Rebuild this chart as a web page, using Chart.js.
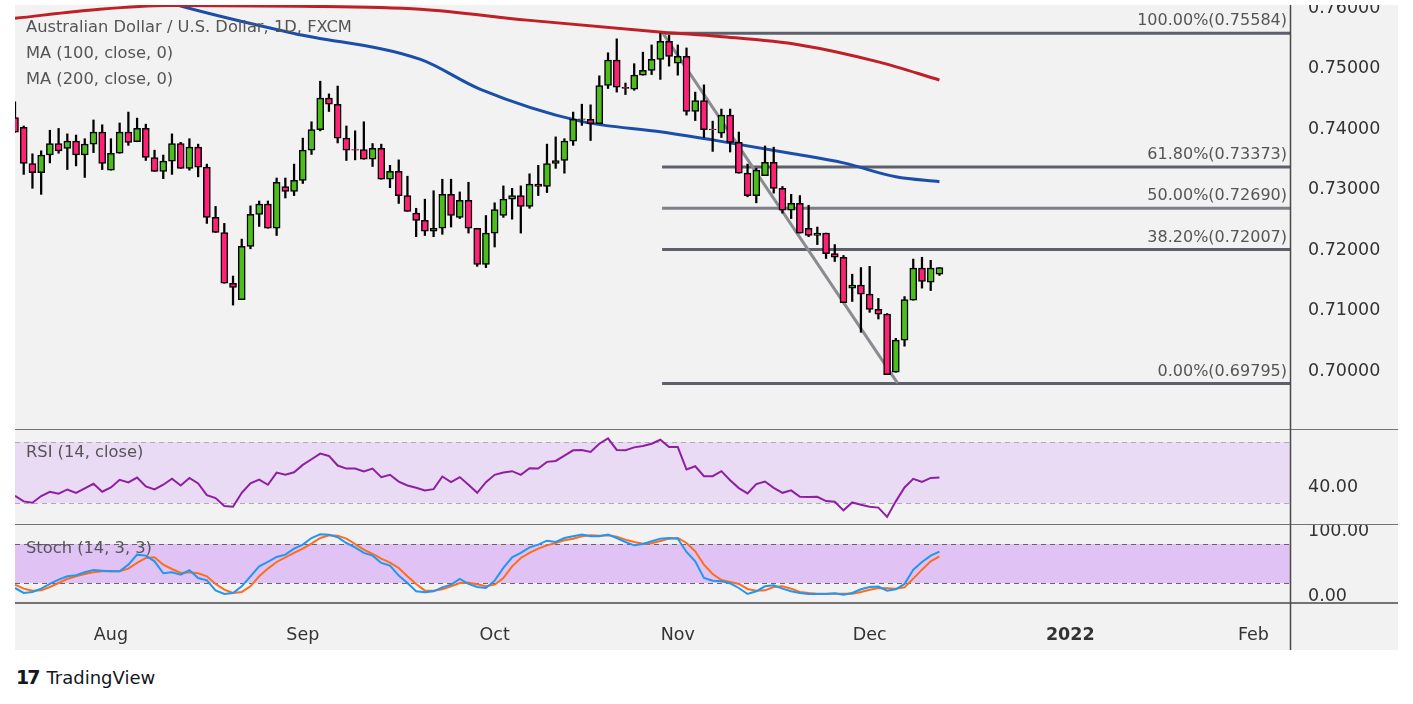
<!DOCTYPE html>
<html>
<head>
<meta charset="utf-8">
<script src="https://cdn.jsdelivr.net/npm/chart.js@4/dist/chart.umd.min.js"></script>
<style>
  body { margin: 0; background: #fff; width: 1413px; height: 704px; position: relative; overflow: hidden; font-family: "DejaVu Sans", sans-serif; }
  #frame { position: absolute; left: 15px; top: 5px; width: 1383px; height: 645px; background: #f2f2f2; }
  .pane { position: absolute; left: 15px; }
  .lbl { position: absolute; left: 26px; font-size: 16.3px; color: #555; white-space: nowrap; pointer-events: none; }
  #logo { position: absolute; left: 16px; top: 666px; font-size: 18px; color: #131722; }
  #logo b { font-size: 19px; letter-spacing: -2px; margin-right: 8px; }
</style>
</head>
<body>
<div id="frame"></div>
<div class="pane" style="top:5px"><canvas id="main" width="1383" height="425"></canvas></div>
<div class="pane" style="top:430px"><canvas id="rsi" width="1383" height="95"></canvas></div>
<div class="pane" style="top:525px"><canvas id="stoch" width="1383" height="125"></canvas></div>
<div class="lbl" style="top:17px">Australian Dollar / U.S. Dollar, 1D, FXCM</div>
<div class="lbl" style="top:43px">MA (100, close, 0)</div>
<div class="lbl" style="top:69px">MA (200, close, 0)</div>
<div class="lbl" style="top:442px">RSI (14, close)</div>
<div class="lbl" style="top:538px">Stoch (14, 3, 3)</div>
<div id="logo"><b>17</b>TradingView</div>
<script>
// bar index 0 = 2 Aug 2021, one step per trading day
const firstIndex = -11;
const opens = [.7419,.7403,.7343,.7328,.7357,.7376,.7368,.7380,.7357,.7375,.7395,.7332,.7360,.7395,.7379,.7401,.7353,.7330,.7347,.7376,.7335,.7370,.7337,.7254,.7229,.7145,.7118,
  .7206,.7259,.7276,.7236,.7305,.7297,.7315,.7365,.7399,.7451,.7441,.7385,.7366,.7366,.7350,.7368,.7317,.7330,.7290,.7261,.7249,.7231,.7236,.7292,.7254,.7282,.7236,.7176,
  .7228,.7257,.7284,.7290,.7272,.7309,.7305,.7343,.7348,.7380,.7416,.7416,.7409,.7472,.7514,.7469,.7466,.7489,.7497,.7515,.7545,.7509,.7520,.7429,.7447,.7400,
  .7393,.7423,.7378,.7327,.7290,.7323,.7345,.7302,.7266,.7277,.7236,.7224,.7228,.7194,.7188,.7137,.7142,.7127,.7102,.7094,.6998,.7051,.7117,.7170,.7147,.7160];
const highs = [.7445,.7405,.7359,.7364,.7398,.7401,.7392,.7390,.7384,.7415,.7407,.7384,.7410,.7428,.7418,.7408,.7365,.7357,.7392,.7378,.7384,.7375,.7342,.7272,.7244,.7157,.7218,
  .7273,.7281,.7281,.7319,.7319,.7342,.7385,.7412,.7479,.7458,.7471,.7405,.7397,.7412,.7376,.7375,.7340,.7349,.7322,.7269,.7284,.7298,.7317,.7317,.7296,.7312,.7236,.7257,
  .7278,.7306,.7302,.7306,.7326,.7340,.7375,.7387,.7384,.7428,.7441,.7440,.7488,.7526,.7549,.7476,.7508,.7527,.7539,.7558,.7555,.7539,.7534,.7461,.7473,.7413,
  .7433,.7433,.7395,.7342,.7335,.7372,.7370,.7305,.7292,.7290,.7274,.7238,.7228,.7209,.7191,.7160,.7171,.7173,.7120,.7095,.7054,.7123,.7185,.7188,.7183,.7171];
const lows = [.7395,.7325,.7302,.7292,.7344,.7360,.7333,.7339,.7320,.7361,.7333,.7332,.7360,.7373,.7379,.7348,.7330,.7318,.7325,.7335,.7332,.7321,.7244,.7229,.7145,.7109,.7118,
  .7202,.7239,.7236,.7224,.7286,.7290,.7310,.7358,.7397,.7429,.7377,.7348,.7349,.7350,.7338,.7317,.7303,.7277,.7264,.7222,.7224,.7222,.7226,.7238,.7252,.7228,.7173,.7171,
  .7205,.7254,.7251,.7228,.7269,.7290,.7295,.7335,.7327,.7373,.7406,.7381,.7409,.7467,.7461,.7457,.7464,.7489,.7490,.7482,.7504,.7489,.7423,.7414,.7386,.7363,
  .7386,.7362,.7327,.7288,.7278,.7323,.7294,.7261,.7252,.7228,.7222,.7209,.7186,.7181,.7113,.7115,.7064,.7097,.7086,.6994,.6998,.7041,.7117,.7137,.7133,.7158];
const closes = [.7395,.7343,.7328,.7357,.7376,.7364,.7380,.7357,.7375,.7395,.7343,.7360,.7395,.7378,.7401,.7353,.7330,.7347,.7376,.7335,.7370,.7337,.7254,.7229,.7145,.7138,.7206,
  .7259,.7276,.7236,.7312,.7297,.7315,.7365,.7399,.7451,.7441,.7385,.7365,.7365,.7350,.7368,.7317,.7330,.7290,.7264,.7249,.7231,.7236,.7292,.7257,.7282,.7236,.7176,.7228,
  .7267,.7284,.7290,.7272,.7309,.7305,.7343,.7348,.7380,.7416,.7417,.7409,.7472,.7514,.7469,.7467,.7489,.7497,.7515,.7545,.7520,.7520,.7429,.7447,.7399,.7399,
  .7423,.7378,.7327,.7290,.7332,.7345,.7302,.7266,.7277,.7228,.7224,.7228,.7194,.7188,.7113,.7142,.7127,.7102,.7094,.6994,.7051,.7118,.7170,.7148,.7170,.7171];

const ma100Idx = [0, 7.6, 21, 35.5, 42.3, 53.8, 63.2, 69.8, 77.9, 84, 90, 95];
const ma100Val = [.7640, .7605, .7558, .7515, .7466, .7413, .7395, .7380, .7360, .7344, .7321, .7313];
const ma200Idx = [-11, -1.3, 6.5, 21.7, 35.5, 47.7, 63.2, 69.8, 79, 88, 95];
const ma200Val = [.7583, .7598, .7604, .7603, .7598, .7580, .7560, .7553, .7539, .7511, .7481];

const fibLabels = ['100.00%', '61.80%', '50.00%', '38.20%', '0.00%'];
const fibLevels = [0.75584, 0.73373, 0.72690, 0.72007, 0.69795];
const fibStart = 63.2;
const trendIdx = [63.3, 90.2];
const trendVal = [0.7558, 0.6980];

const rsi = [34.8,31.1,30.2,34.6,37.4,36.1,38.9,36.7,39.6,42.6,37.4,40.2,45.2,43.5,46.7,40.9,38.9,42.0,45.9,41.5,46.5,42.8,35.2,33.3,28.0,27.6,36.7,43.0,45.4,42.0,
  50.0,48.5,50.2,55.0,58.7,62.4,60.9,54.6,52.6,52.6,50.7,52.6,47.0,48.5,44.1,41.5,40.0,38.3,39.1,47.4,43.7,47.0,42.0,36.7,
  43.7,48.5,50.0,50.9,48.5,52.8,52.6,57.0,57.6,61.1,64.6,64.8,63.5,68.9,72.4,64.8,64.6,66.5,67.4,68.9,71.5,66.7,66.7,52.0,54.1,47.6,47.6,
  50.9,45.0,39.8,36.3,42.4,44.1,40.0,36.7,38.3,34.1,33.9,34.1,31.3,30.9,25.2,30.4,28.9,27.6,27.0,20.9,31.1,40.2,45.9,43.9,46.5,46.7];
const stochK = [12.3,4.6,6.2,11.3,18.5,25.1,30.3,31.8,36.4,40.0,39.0,38.0,38.0,48.2,63.6,62.1,53.3,34.9,36.4,32.8,39.5,27.7,24.1,8.7,3.1,4.6,14.9,
  30.3,45.6,52.3,60.0,63.6,72.8,79.0,89.2,94.9,94.4,90.3,81.5,74.9,66.2,62.1,50.8,46.7,31.3,20.0,7.2,5.6,7.2,13.3,17.4,26.2,18.5,13.8,12.3,
  23.6,43.1,59.5,66.2,74.9,79.0,85.1,83.1,89.2,91.8,94.4,91.8,91.8,94.4,89.2,83.1,77.9,80.0,84.1,88.2,89.2,88.2,67.7,53.3,27.7,23.6,
  22.6,19.5,12.3,3.1,7.2,14.9,16.4,11.3,7.2,4.6,3.1,3.1,3.1,4.1,2.1,4.6,10.3,13.8,14.4,8.2,10.3,18.5,40.5,52.3,62.1,68.2];
const stochD = [17.4,11.3,8.2,8.7,13.8,20.0,26.2,30.3,33.8,36.4,38.0,38.5,38.0,42.1,50.8,58.5,59.5,48.2,41.5,35.4,36.4,34.9,30.3,18.5,9.7,4.6,6.2,
  14.9,30.3,42.1,52.3,59.5,66.2,72.8,80.5,89.2,93.3,92.8,88.2,80.0,71.3,64.6,57.4,51.3,43.1,30.3,18.5,8.2,8.2,10.3,14.9,20.0,20.5,17.9,14.9,
  17.4,27.7,45.6,58.5,66.2,72.8,77.9,81.5,85.6,88.2,91.8,93.3,92.8,93.3,91.3,86.7,83.1,80.5,81.0,84.6,88.2,89.2,81.5,68.7,48.2,33.8,
  24.6,21.5,18.5,10.8,8.2,8.7,13.8,14.9,11.3,6.2,4.6,3.6,3.6,3.6,3.6,3.6,6.2,9.7,12.3,11.8,11.3,13.3,26.7,40.5,53.3,61.0];

const xTickIdx = [0, 22, 44, 65, 87, 110, 131];
const xTickLabels = ['Aug', 'Sep', 'Oct', 'Nov', 'Dec', '2022', 'Feb'];

const X_MIN = -11.0, X_MAX = 135.2;
const AXIS_W = 108;
const FONT = '"DejaVu Sans", sans-serif';
Chart.defaults.font.family = FONT;
Chart.defaults.animation = false;
Chart.defaults.devicePixelRatio = 1;

const xHidden = { type: 'linear', min: X_MIN, max: X_MAX, offset: false, display: false };
function yAxis(min, max, ticks, fmt) {
  return {
    position: 'right', min, max,
    grid: { display: false }, border: { display: false },
    afterBuildTicks: s => { s.ticks = ticks.map(v => ({ value: v })); },
    afterFit: s => { s.width = AXIS_W; s.paddingTop = 0; s.paddingBottom = 0; },
    ticks: { color: '#333', font: { size: 17.5 }, padding: 10, callback: fmt }
  };
}
const sepPlugin = {
  id: 'sep',
  afterDraw(c) {
    const { ctx, chartArea: a } = c;
    ctx.save();
    ctx.strokeStyle = '#4a4a4a'; ctx.lineWidth = 1.5;
    ctx.beginPath();
    ctx.moveTo(a.right + 0.5, 0); ctx.lineTo(a.right + 0.5, c.height);
    ctx.moveTo(0, a.bottom); ctx.lineTo(c.width, a.bottom);
    ctx.stroke();
    ctx.restore();
  }
};
function bandPlugin(lo, hi, fill, dash) {
  return {
    id: 'band',
    beforeDatasetsDraw(c) {
      const { ctx, chartArea: a, scales: { y } } = c;
      const y1 = y.getPixelForValue(hi), y2 = y.getPixelForValue(lo);
      ctx.save();
      ctx.fillStyle = fill;
      ctx.fillRect(a.left, y1, a.right - a.left, y2 - y1);
      ctx.strokeStyle = dash; ctx.lineWidth = 1; ctx.setLineDash([5, 4]);
      ctx.beginPath();
      ctx.moveTo(a.left, Math.round(y1) + 0.5); ctx.lineTo(a.right, Math.round(y1) + 0.5);
      ctx.moveTo(a.left, Math.round(y2) + 0.5); ctx.lineTo(a.right, Math.round(y2) + 0.5);
      ctx.stroke();
      ctx.restore();
    }
  };
}

// main price pane
const idx = opens.map((_, k) => firstIndex + k);
const candleColor = idx.map((_, k) => closes[k] >= opens[k] ? '#4cbd1c' : '#ff2176');
const fibDatasets = fibLevels.map((v, k) => ({
  type: 'line', data: [{ x: fibStart, y: v }, { x: X_MAX, y: v }],
  borderColor: k === 2 ? '#7c7e88' : '#5d606b', borderWidth: 3, pointRadius: 0, order: 5
}));
const fibLabelPlugin = {
  id: 'fibLabels',
  afterDatasetsDraw(c) {
    const { ctx, chartArea: a, scales: { y } } = c;
    ctx.save();
    ctx.font = '16px ' + FONT; ctx.fillStyle = '#555';
    ctx.textAlign = 'right'; ctx.textBaseline = 'bottom';
    fibLevels.forEach((v, k) => {
      ctx.fillText(fibLabels[k] + '(' + v.toFixed(5) + ')', a.right - 3, y.getPixelForValue(v) - 4);
    });
    ctx.restore();
  }
};
new Chart(document.getElementById('main'), {
  type: 'bar',
  data: {
    datasets: [
      ...fibDatasets,
      { type: 'line', data: trendIdx.map((x, k) => ({ x, y: trendVal[k] })), borderColor: '#8b8c92', borderWidth: 3, pointRadius: 0, order: 4 },
      { type: 'line', data: ma200Idx.map((x, k) => ({ x, y: ma200Val[k] })), borderColor: '#bf1f26', borderWidth: 3, pointRadius: 0, cubicInterpolationMode: 'monotone', order: 3 },
      { type: 'line', data: ma100Idx.map((x, k) => ({ x, y: ma100Val[k] })), borderColor: '#1a4ea8', borderWidth: 3, pointRadius: 0, cubicInterpolationMode: 'monotone', order: 3 },
      { data: idx.map((x, k) => ({ x, y: [lows[k], highs[k]] })), backgroundColor: '#000', barThickness: 1.6, grouped: false, order: 2 },
      { data: idx.map((x, k) => ({ x, y: [opens[k], closes[k]] })), backgroundColor: candleColor, borderColor: '#000', borderWidth: 1.5, borderSkipped: false, barThickness: 7, grouped: false, order: 1 }
    ]
  },
  options: {
    responsive: false,
    layout: { padding: 0 },
    plugins: { legend: { display: false }, tooltip: { enabled: false } },
    scales: {
      x: xHidden,
      y: yAxis(0.69025, 0.7605, [0.70, 0.71, 0.72, 0.73, 0.74, 0.75, 0.76], v => v.toFixed(5))
    }
  },
  plugins: [sepPlugin, fibLabelPlugin]
});

// RSI pane
new Chart(document.getElementById('rsi'), {
  type: 'line',
  data: { datasets: [{ data: idx.map((x, k) => ({ x, y: rsi[k] })), borderColor: '#8e1fa3', borderWidth: 2, pointRadius: 0, tension: 0 }] },
  options: {
    responsive: false,
    layout: { padding: 0 },
    plugins: { legend: { display: false }, tooltip: { enabled: false } },
    scales: { x: xHidden, y: yAxis(15.6, 77.9, [40], v => v.toFixed(2)) }
  },
  plugins: [bandPlugin(30, 70, '#e9dbf3', '#b3a8b8'), sepPlugin]
});

// Stochastic pane with the time axis
new Chart(document.getElementById('stoch'), {
  type: 'line',
  data: {
    datasets: [
      { data: idx.map((x, k) => ({ x, y: stochK[k] })), borderColor: '#2196f3', borderWidth: 2, pointRadius: 0 },
      { data: idx.map((x, k) => ({ x, y: stochD[k] })), borderColor: '#ff6d1a', borderWidth: 2, pointRadius: 0 }
    ]
  },
  options: {
    responsive: false,
    layout: { padding: 0 },
    plugins: { legend: { display: false }, tooltip: { enabled: false } },
    scales: {
      x: {
        type: 'linear', min: X_MIN, max: X_MAX, offset: false,
        grid: { display: false }, border: { display: false },
        afterBuildTicks: s => { s.ticks = xTickIdx.map(v => ({ value: v })); },
        afterFit: s => { s.height = 47; s.paddingLeft = 0; s.paddingRight = 0; },
        ticks: {
          color: '#333', padding: 14, maxRotation: 0, autoSkip: false,
          font: c => ({ size: 17.5, weight: c.tick && c.tick.value === 110 ? 'bold' : 'normal' }),
          callback: v => xTickLabels[xTickIdx.indexOf(v)]
        }
      },
      y: yAxis(-10.8, 109.2, [0, 100], v => v.toFixed(2))
    }
  },
  plugins: [bandPlugin(20, 80, '#e0c3f4', '#666'), sepPlugin]
});
</script>
</body>
</html>
